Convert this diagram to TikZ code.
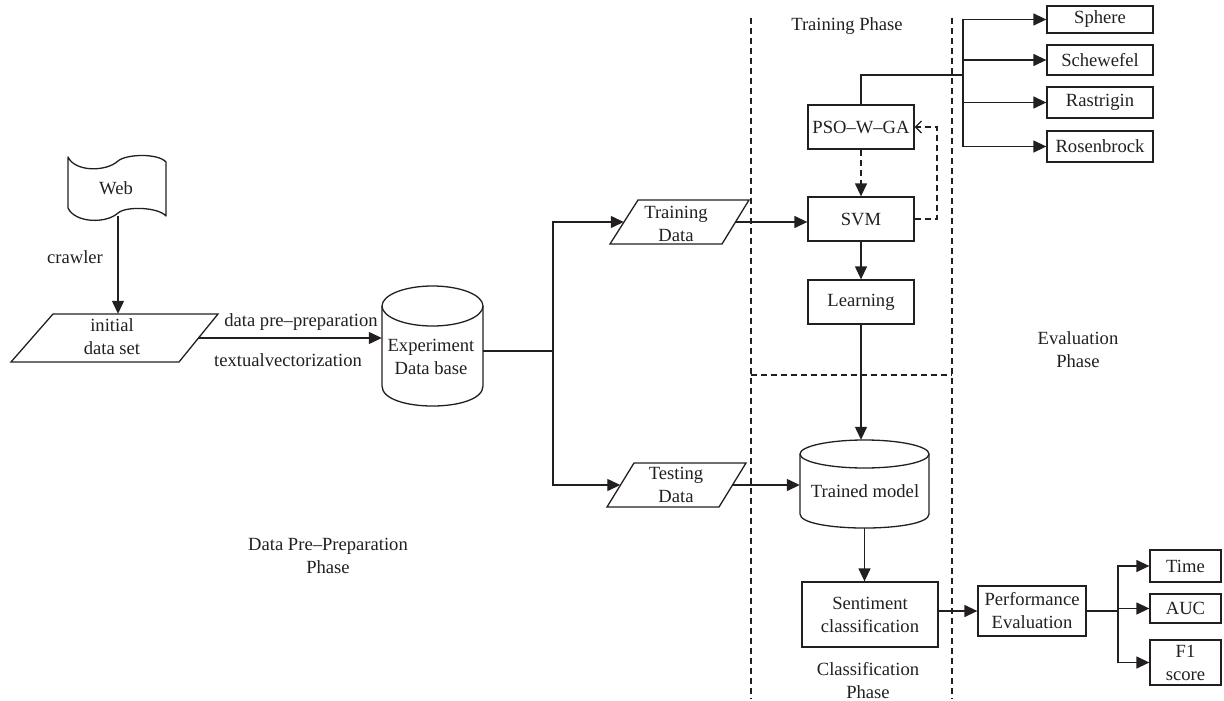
\documentclass[tikz,border=0pt]{standalone}
\usepackage{fontspec}
\setmainfont{Liberation Serif}
\usetikzlibrary{arrows.meta}
\definecolor{ink}{HTML}{231F20}
\begin{document}
\begin{tikzpicture}[x=1pt,y=-1pt,
  every node/.style={font=\fontsize{18.6}{23}\selectfont, text=ink, align=center, inner sep=0pt},
  line/.style={draw=ink, line width=1.3pt},
  tip/.style={-{Triangle[length=13pt,width=12pt]}},
  arr/.style={line, tip},
  dsh/.style={line, dash pattern=on 6pt off 4pt},
  openarr/.style={-{Straight Barb[length=6pt,width=12pt,line width=1.2pt]}},
  box/.style={line, rectangle},
  ghost/.style={rectangle}
]
\useasboundingbox (0,0) rectangle (1224,701);

% ---------- phase separators ----------
\draw[dsh] (751,18) -- (751,699);
\draw[dsh] (952,18) -- (952,699);
\draw[dsh] (751,375) -- (952,375);

% ---------- Web flag ----------
\draw[line, line join=round] (68,157) .. controls (75,172) and (106,172) .. (118,161)
   .. controls (126,154) and (158,153) .. (166,162) -- (166,216)
   .. controls (158,207) and (126,206) .. (118,213)
   .. controls (106,224) and (75,223) .. (68,208) -- cycle;
\node[ghost, minimum width=98pt, minimum height=58pt] (web) at (118,187) {};
\node at (116,188) {Web};

% ---------- initial data set ----------
\draw[line] (53,314) -- (218,314) -- (179,362) -- (11,362) -- cycle;
\node[ghost, minimum width=166pt, minimum height=48pt] (init) at (115,338) {};
\node at (112,337) {initial\\data set};
\draw[arr] (web.south) -- (web.south |- init.north);
\node at (75,257) {crawler};

% ---------- Experiment database ----------
\draw[line] (432.5,306) ellipse [x radius=50.5, y radius=20];
\draw[line] (382,306) -- (382,386) .. controls (382,412.7) and (483,412.7) .. (483,386) -- (483,306);
\node[ghost, minimum width=101pt, minimum height=110pt] (db) at (432.5,351) {};
\node at (431,357) {Experiment\\Data base};
\draw[arr] (init.east) -- (init.east -| db.west);
\node at (301,322) {data pre–preparation};
\node at (288,360) {textualvectorization};

% ---------- Training / Testing data ----------
\draw[line] (638,200) -- (749,200) -- (722,244) -- (610,244) -- cycle;
\node[ghost, minimum width=111.5pt, minimum height=44pt] (td) at (679.75,222) {};
\node at (676,223.5) {Training\\Data};

\draw[line] (634,463) -- (746,463) -- (719,507) -- (607,507) -- cycle;
\node[ghost, minimum width=112pt, minimum height=44pt] (tsd) at (676.5,485) {};
\node at (676,485) {Testing\\Data};

\coordinate (sp) at (553,351);
\draw[line] (db.east) -- (sp);
\draw[arr] (sp) |- (td.west);
\draw[arr] (sp) |- (tsd.west);

% ---------- Training phase ----------
\node at (847,26) {Training Phase};
\node[box, minimum width=106pt, minimum height=44pt] (pso) at (861,127) {PSO–W–GA};
\node[box, minimum width=106pt, minimum height=44pt] (svm) at (861,219) {SVM};
\node[box, minimum width=106pt, minimum height=44pt] (learn) at (861,302) {Learning};

\draw[arr] (td.east) -- (td.east -| svm.west);
\draw[dsh, tip] (pso.south) -- (svm.north);
\coordinate (fb) at (937,127);
\draw[dsh, openarr] (svm.east) -| (fb) -- (pso.east);
\draw[arr] (svm.south) -- (learn.north);

% ---------- benchmark functions ----------
\node[box, minimum width=106pt, minimum height=27pt] (sphere) at (1100,19.5) {Sphere};
\node[box, minimum width=106pt, minimum height=30pt] (schw) at (1100,60) {Schewefel};
\node[box, minimum width=106pt, minimum height=31pt] (rast) at (1100,102.5) {Rastrigin};
\node[box, minimum width=106pt, minimum height=31pt] (rosen) at (1100,146.5) {Rosenbrock};
\coordinate (fs) at (963,75);
\draw[line] (pso.north) |- (fs);
\draw[arr] (fs) |- (sphere.west);
\draw[arr] (fs) |- (schw.west);
\draw[arr] (fs) |- (rast.west);
\draw[arr] (fs) |- (rosen.west);

% ---------- Trained model ----------
\draw[line] (864.5,454) ellipse [x radius=64.5, y radius=14];
\draw[line] (800,454) -- (800,514) .. controls (800,532.7) and (929,532.7) .. (929,514) -- (929,454);
\node[ghost, minimum width=129pt, minimum height=88pt] (tm) at (864.5,484) {};
\node at (865,491) {Trained model};
\draw[arr] (learn.south) -- (learn.south |- tm.north);
\draw[arr] (tsd.east) -- (tsd.east -| tm.west);

% ---------- Classification ----------
\node[box, minimum width=136pt, minimum height=65pt] (sent) at (870,614.5) {Sentiment\\classification};
\draw[arr] (tm.south) -- (tm.south |- sent.north);
\node at (868,681) {Classification\\Phase};

% ---------- Evaluation ----------
\node[box, minimum width=108pt, minimum height=50pt] (perf) at (1032,611) {Performance\\Evaluation};
\draw[arr] (sent.east |- perf.west) -- (perf.west);
\node[box, minimum width=71pt, minimum height=32pt] (time) at (1185.5,566) {Time};
\node[box, minimum width=71pt, minimum height=29pt] (auc) at (1185.5,608.5) {AUC};
\node[box, minimum width=71pt, minimum height=45pt] (f1) at (1185.5,662.5) {F1\\score};
\coordinate (es) at (1118,611);
\draw[line] (perf.east) -- (es);
\draw[arr] (es) |- (time.west);
\draw[arr] (es) |- (auc.west);
\draw[arr] (es) |- (f1.west);
\node at (1078,350) {Evaluation\\Phase};

% ---------- phase label ----------
\node at (328,556) {Data Pre–Preparation\\Phase};
\end{tikzpicture}
\end{document}
